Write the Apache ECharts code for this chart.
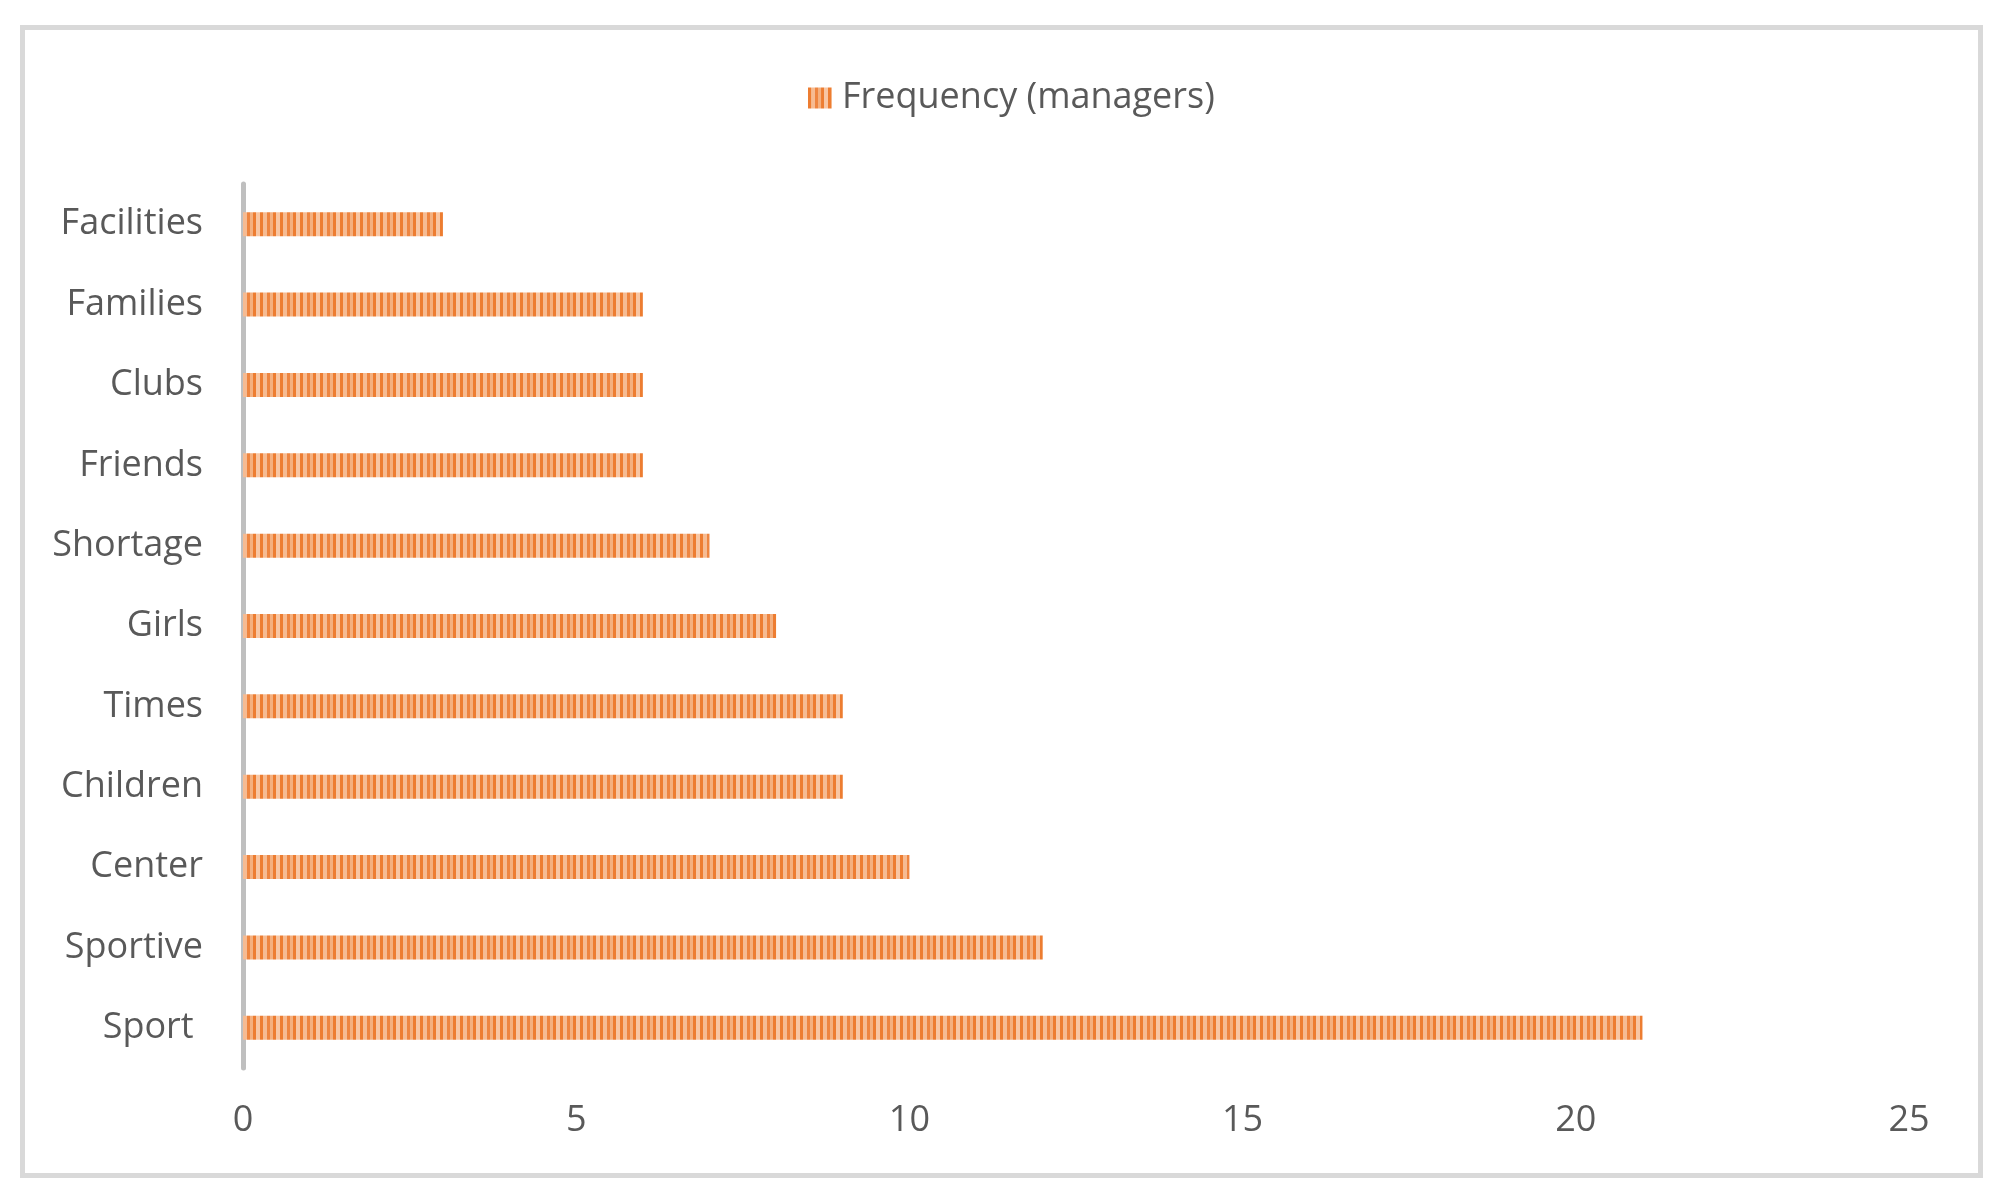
<!DOCTYPE html>
<html>
<head>
<meta charset="utf-8">
<script src="https://cdn.jsdelivr.net/npm/echarts@6/dist/echarts.min.js"></script>
<style>
  html, body { margin: 0; padding: 0; background: #fff; }
  #chart { width: 2005px; height: 1202px; }
</style>
</head>
<body>
<div id="chart"></div>
<script>
const categories = ['Sport ', 'Sportive', 'Center', 'Children', 'Times', 'Girls', 'Shortage', 'Friends', 'Clubs', 'Families', 'Facilities'];
const frequencyManagers = [21, 12, 10, 9, 9, 8, 7, 6, 6, 6, 3];
const seriesName = 'Frequency (managers)';
const xTickMin = 0, xTickMax = 25, xTickStep = 5;

// striped fill pattern
function makePattern() {
  const c = document.createElement('canvas');
  c.width = 20; c.height = 30;
  const ctx = c.getContext('2d');
  const stripes = [['#ED7D31', 3], ['#F6BB92', 4], ['#EE8540', 3], ['#F4B07F', 3], ['#ED7D31', 3], ['#F8C6A3', 4]];
  let x = 0;
  stripes.forEach(([col, w]) => { ctx.fillStyle = col; ctx.fillRect(x, 0, w, 30); x += w; });
  return c;
}
const pattern = { image: makePattern(), repeat: 'repeat' };

const chart = echarts.init(document.getElementById('chart'), null, { renderer: 'canvas' });
const font = '"Open Sans", "Segoe UI", sans-serif';
chart.setOption({
  backgroundColor: '#ffffff',
  animation: false,
  graphic: [{
    type: 'rect',
    shape: { x: 22.5, y: 27.5, width: 1958, height: 1148 },
    style: { fill: 'none', stroke: '#d9d9d9', lineWidth: 5 },
    silent: true
  }],
  legend: {
    data: [{ name: seriesName, icon: 'rect' }],
    left: 803,
    top: 75,
    itemWidth: 24,
    itemHeight: 21,
    textStyle: { fontFamily: font, fontSize: 36, color: '#595959', padding: [0, 0, 0, 5] }
  },
  grid: { left: 243, right: 96, top: 184, bottom: 134, containLabel: false },
  xAxis: {
    type: 'value',
    min: xTickMin, max: xTickMax, interval: xTickStep,
    axisLine: { show: false },
    axisTick: { show: false },
    splitLine: { show: false },
    axisLabel: { fontFamily: font, fontSize: 36, color: '#595959', margin: 35 }
  },
  yAxis: {
    type: 'category',
    data: categories,
    axisLine: { show: true, lineStyle: { color: '#bfbfbf', width: 5 } },
    axisTick: { show: false },
    axisLabel: { fontFamily: font, fontSize: 36, color: '#595959', margin: 40, padding: [10, 0, 0, 0] }
  },
  series: [{
    name: seriesName,
    type: 'bar',
    data: frequencyManagers,
    barWidth: 24,
    itemStyle: { color: pattern }
  }]
});
</script>
</body>
</html>
